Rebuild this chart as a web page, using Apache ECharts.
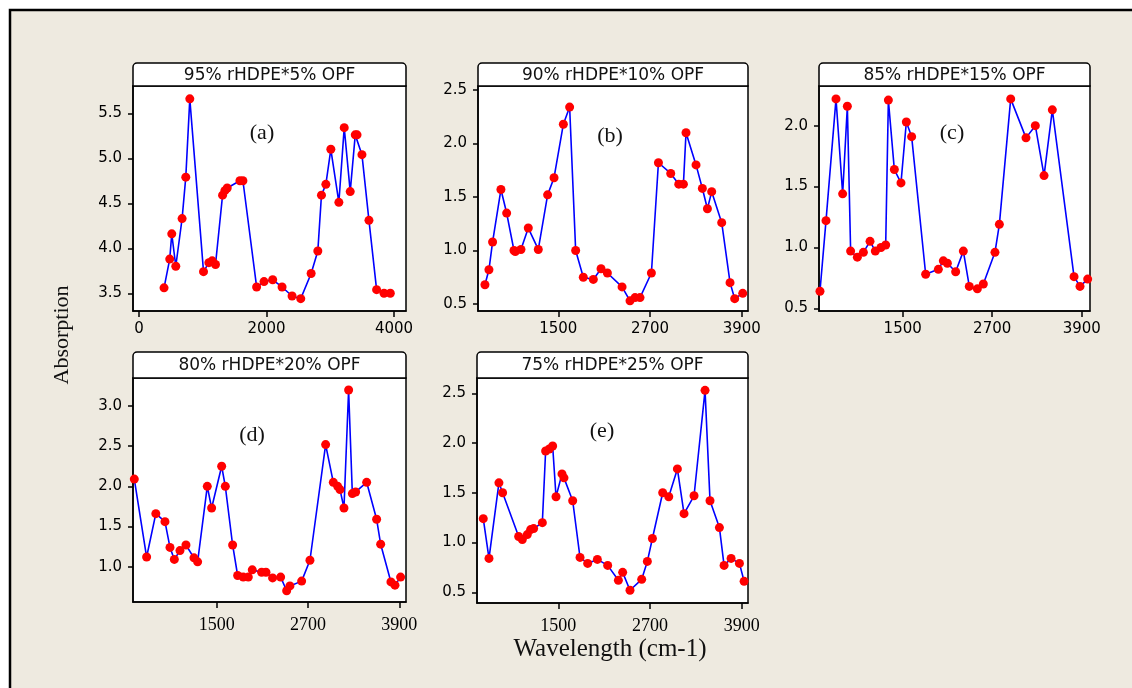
<!DOCTYPE html>
<html>
<head>
<meta charset="utf-8">
<script src="https://cdn.jsdelivr.net/npm/echarts@6/dist/echarts.min.js"></script>
<style>
html,body{margin:0;padding:0;background:#fff;}
#chart{width:1132px;height:688px;}
</style>
</head>
<body>
<div id="chart"></div>
<script>
// ---- Data ----
const panelTitles = ['95% rHDPE*5% OPF', '90% rHDPE*10% OPF', '85% rHDPE*15% OPF', '80% rHDPE*20% OPF', '75% rHDPE*25% OPF'];
const panelLetters = ['(a)', '(b)', '(c)', '(d)', '(e)'];

const waveA = [393, 482, 514, 577, 676, 734, 797, 1012, 1096, 1148, 1200, 1311, 1347, 1384, 1583, 1630, 1845, 1961, 2097, 2244, 2401, 2537, 2700, 2805, 2862, 2931, 3009, 3135, 3219, 3313, 3392, 3420, 3497, 3607, 3727, 3843, 3942];
const absA  = [3.56, 3.88, 4.16, 3.80, 4.33, 4.79, 5.66, 3.74, 3.84, 3.86, 3.82, 4.59, 4.64, 4.67, 4.75, 4.75, 3.57, 3.63, 3.65, 3.57, 3.47, 3.44, 3.72, 3.97, 4.59, 4.71, 5.10, 4.51, 5.34, 4.63, 5.26, 5.26, 5.04, 4.31, 3.54, 3.50, 3.50];

const waveB = [540, 592, 640, 749, 824, 920, 937, 1011, 1107, 1238, 1360, 1444, 1566, 1648, 1727, 1827, 1958, 2059, 2142, 2334, 2438, 2504, 2569, 2718, 2810, 2971, 3076, 3137, 3171, 3302, 3385, 3451, 3507, 3638, 3747, 3808, 3913];
const absB  = [0.68, 0.82, 1.08, 1.57, 1.35, 1.00, 0.99, 1.01, 1.21, 1.01, 1.52, 1.68, 2.18, 2.34, 1.00, 0.75, 0.73, 0.83, 0.79, 0.66, 0.53, 0.56, 0.56, 0.79, 1.82, 1.72, 1.62, 1.62, 2.10, 1.80, 1.58, 1.39, 1.55, 1.26, 0.70, 0.55, 0.60];

const waveC = [391, 472, 606, 695, 758, 802, 892, 973, 1062, 1133, 1209, 1272, 1308, 1388, 1477, 1549, 1620, 1808, 1978, 2045, 2099, 2210, 2313, 2393, 2501, 2581, 2737, 2796, 2948, 3153, 3278, 3395, 3506, 3797, 3877, 3980];
const absC  = [0.64, 1.22, 2.22, 1.44, 2.16, 0.97, 0.92, 0.96, 1.05, 0.97, 1.00, 1.02, 2.21, 1.64, 1.53, 2.03, 1.91, 0.78, 0.82, 0.89, 0.87, 0.80, 0.97, 0.68, 0.66, 0.70, 0.96, 1.19, 2.22, 1.90, 2.00, 1.59, 2.13, 0.76, 0.68, 0.74];

const waveD = [418, 580, 701, 821, 887, 944, 1018, 1097, 1202, 1250, 1377, 1434, 1566, 1614, 1710, 1776, 1850, 1916, 1968, 2091, 2148, 2235, 2341, 2420, 2463, 2617, 2726, 2932, 3033, 3090, 3121, 3173, 3234, 3283, 3326, 3471, 3602, 3655, 3790, 3843, 3917];
const absD  = [2.09, 1.12, 1.66, 1.56, 1.24, 1.09, 1.20, 1.27, 1.11, 1.06, 2.00, 1.73, 2.25, 2.00, 1.27, 0.89, 0.87, 0.87, 0.96, 0.93, 0.93, 0.86, 0.87, 0.70, 0.76, 0.82, 1.08, 2.52, 2.05, 2.00, 1.96, 1.73, 3.20, 1.91, 1.93, 2.05, 1.59, 1.28, 0.81, 0.77, 0.87];

const waveE = [518, 593, 723, 771, 981, 1029, 1094, 1138, 1177, 1291, 1334, 1382, 1426, 1470, 1548, 1574, 1688, 1784, 1884, 2011, 2146, 2286, 2342, 2438, 2591, 2665, 2731, 2866, 2945, 3058, 3145, 3276, 3420, 3485, 3608, 3669, 3761, 3870, 3931];
const absE  = [1.24, 0.84, 1.60, 1.50, 1.06, 1.03, 1.08, 1.13, 1.14, 1.20, 1.92, 1.94, 1.97, 1.46, 1.69, 1.65, 1.42, 0.85, 0.79, 0.83, 0.77, 0.62, 0.70, 0.52, 0.63, 0.81, 1.04, 1.50, 1.46, 1.74, 1.29, 1.47, 2.53, 1.42, 1.15, 0.77, 0.84, 0.79, 0.61];

const xTicksA = [0, 2000, 4000];
const xTicksOther = [1500, 2700, 3900];
const yTicksA = [3.5, 4.0, 4.5, 5.0, 5.5];
const yTicksB = [0.5, 1.0, 1.5, 2.0, 2.5];
const yTicksC = [0.5, 1.0, 1.5, 2.0];
const yTicksD = [1.0, 1.5, 2.0, 2.5, 3.0];
const yTicksE = [0.5, 1.0, 1.5, 2.0, 2.5];

const yAxisTitle = 'Absorption';
const xAxisTitle = 'Wavelength (cm-1)';

// ---- Layout / styling ----
const waves = [waveA, waveB, waveC, waveD, waveE];
const abss = [absA, absB, absC, absD, absE];
const xTicks = [xTicksA, xTicksOther, xTicksOther, xTicksOther, xTicksOther];
const yTicks = [yTicksA, yTicksB, yTicksC, yTicksD, yTicksE];

const panels = [
  {left:133, top:86,  width:273, height:225, xmin:-94, xmax:4188, ymin:3.303, ymax:5.803, serifX:false, stripTop:63,  label:[262,133]},
  {left:478, top:86,  width:270, height:225, xmin:449, xmax:3982, ymin:0.435, ymax:2.537, serifX:false, stripTop:63,  label:[610,136]},
  {left:819, top:86,  width:271, height:225, xmin:378, xmax:4011, ymin:0.478, ymax:2.326, serifX:false, stripTop:63,  label:[952,133]},
  {left:133, top:378, width:273, height:224, xmin:401, xmax:3988, ymin:0.56,  ymax:3.349, serifX:true,  stripTop:352, label:[252,435]},
  {left:477, top:378, width:271, height:225, xmin:436, xmax:3982, ymin:0.392, ymax:2.654, serifX:true,  stripTop:352, label:[602,431]}
];

const sansFont = '"DejaVu Sans", Verdana, sans-serif';
const serifFont = '"Liberation Serif", "Times New Roman", serif';
const axisColor = '#000';

const grids = [], xAxes = [], yAxes = [], series = [], graphics = [];

graphics.push({type:'rect', z:-10, shape:{x:10, y:10, width:1140, height:700},
  style:{fill:'#EEEAE0', stroke:'#000', lineWidth:2.5}});

panels.forEach((p, i) => {
  grids.push({left:p.left, top:p.top, width:p.width, height:p.height, show:true,
    backgroundColor:'#fff', borderColor:'#000', borderWidth:1.5, containLabel:false});
  xAxes.push({type:'value', gridIndex:i, min:p.xmin, max:p.xmax,
    axisLine:{show:true, onZero:false, lineStyle:{color:axisColor, width:1.5}},
    axisTick:{show:true, length:6, customValues:xTicks[i], lineStyle:{color:axisColor, width:1.5}},
    axisLabel:{customValues:xTicks[i], margin: p.serifX ? 14 : 11,
      fontFamily: p.serifX ? serifFont : sansFont, fontSize: p.serifX ? 18 : 15, color:'#000',
      formatter: v => String(Math.round(v))},
    splitLine:{show:false}});
  yAxes.push({type:'value', gridIndex:i, min:p.ymin, max:p.ymax,
    axisLine:{show:true, onZero:false, lineStyle:{color:axisColor, width:1.5}},
    axisTick:{show:true, length:5, customValues:yTicks[i], lineStyle:{color:axisColor, width:1.5}},
    axisLabel:{customValues:yTicks[i], margin:11, fontFamily:sansFont, fontSize:15, color:'#000',
      formatter: v => v.toFixed(1)},
    splitLine:{show:false}});
  series.push({type:'line', xAxisIndex:i, yAxisIndex:i,
    data: waves[i].map((w, k) => [w, abss[i][k]]),
    symbol:'circle', symbolSize:9, showAllSymbol:true,
    lineStyle:{color:'#0000ff', width:1.6},
    itemStyle:{color:'#ff0000'},
    emphasis:{disabled:true}, animation:false});
  // title strip
  graphics.push({type:'rect', z:10, shape:{x:p.left, y:p.stripTop, width:p.width, height:p.top - p.stripTop, r:[4,4,0,0]},
    style:{fill:'#fff', stroke:'#000', lineWidth:1.5}});
  graphics.push({type:'text', z:11, style:{text:panelTitles[i], x:p.left + p.width/2, y:(p.stripTop + p.top)/2 + 1,
    textAlign:'center', textVerticalAlign:'middle', font:'17px ' + sansFont, fill:'#111'}});
  // panel letter
  graphics.push({type:'text', z:11, style:{text:panelLetters[i], x:p.label[0], y:p.label[1],
    textAlign:'center', textVerticalAlign:'middle', font:'22px ' + serifFont, fill:'#111'}});
});

graphics.push({type:'text', z:11, x:62, y:335, rotation:Math.PI/2,
  style:{text:yAxisTitle, x:0, y:0, textAlign:'center', textVerticalAlign:'middle', font:'22px ' + serifFont, fill:'#111'}});
graphics.push({type:'text', z:11,
  style:{text:xAxisTitle, x:610, y:649, textAlign:'center', textVerticalAlign:'middle', font:'25px ' + serifFont, fill:'#111'}});

const chart = echarts.init(document.getElementById('chart'), null, {renderer:'canvas'});
chart.setOption({
  backgroundColor:'#fff',
  animation:false,
  grid:grids, xAxis:xAxes, yAxis:yAxes, series:series, graphic:graphics
});
</script>
</body>
</html>
